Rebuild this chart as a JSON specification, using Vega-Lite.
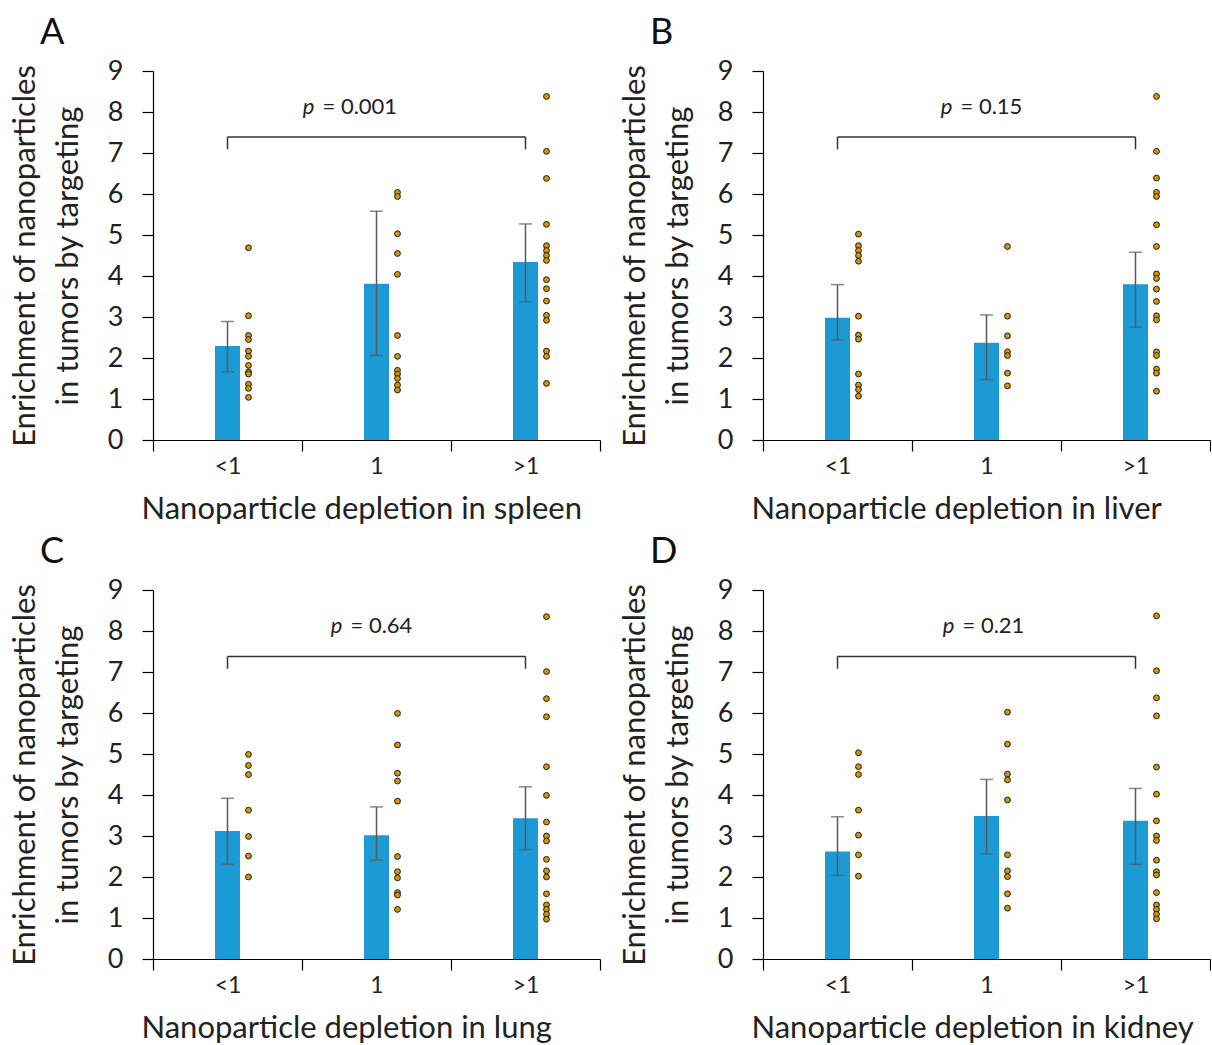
{
  "$schema": "https://vega.github.io/schema/vega-lite/v6.json",
  "background": "white",
  "padding": {"left": 8, "top": 15, "right": 0, "bottom": 0},
  "config": {
    "view": {"stroke": null},
    "font": "Lato",
    "axis": {"grid": false, "domainColor": "#000", "tickColor": "#000", "labelColor": "#222", "titleColor": "#222", "labelFont": "Lato", "titleFont": "Lato", "titleFontWeight": "normal", "domainWidth": 1.2, "tickWidth": 1.2},
    "title": {"font": "Lato", "fontWeight": "normal", "fontSize": 36, "color": "#111", "anchor": "start", "frame": "group", "dx": -113, "offset": 5}
  },
  "datasets": {
    "bars": [
      {"panel": "A", "group": "<1", "mean": 2.29, "lo": 1.66, "hi": 2.89},
      {"panel": "A", "group": "1", "mean": 3.81, "lo": 2.06, "hi": 5.58},
      {"panel": "A", "group": ">1", "mean": 4.34, "lo": 3.37, "hi": 5.27},
      {"panel": "B", "group": "<1", "mean": 2.98, "lo": 2.44, "hi": 3.79},
      {"panel": "B", "group": "1", "mean": 2.37, "lo": 1.47, "hi": 3.05},
      {"panel": "B", "group": ">1", "mean": 3.80, "lo": 2.75, "hi": 4.58},
      {"panel": "C", "group": "<1", "mean": 3.12, "lo": 2.31, "hi": 3.92},
      {"panel": "C", "group": "1", "mean": 3.02, "lo": 2.41, "hi": 3.71},
      {"panel": "C", "group": ">1", "mean": 3.43, "lo": 2.67, "hi": 4.20},
      {"panel": "D", "group": "<1", "mean": 2.62, "lo": 2.04, "hi": 3.47},
      {"panel": "D", "group": "1", "mean": 3.49, "lo": 2.56, "hi": 4.38},
      {"panel": "D", "group": ">1", "mean": 3.37, "lo": 2.31, "hi": 4.16}
    ],
    "dots": [
      {"panel": "A", "group": "<1", "value": 4.69}, {"panel": "A", "group": "<1", "value": 3.03}, {"panel": "A", "group": "<1", "value": 2.55}, {"panel": "A", "group": "<1", "value": 2.45}, {"panel": "A", "group": "<1", "value": 2.17}, {"panel": "A", "group": "<1", "value": 2.04}, {"panel": "A", "group": "<1", "value": 1.82}, {"panel": "A", "group": "<1", "value": 1.66}, {"panel": "A", "group": "<1", "value": 1.61}, {"panel": "A", "group": "<1", "value": 1.36}, {"panel": "A", "group": "<1", "value": 1.26}, {"panel": "A", "group": "<1", "value": 1.04},
      {"panel": "A", "group": "1", "value": 6.04}, {"panel": "A", "group": "1", "value": 5.94}, {"panel": "A", "group": "1", "value": 5.03}, {"panel": "A", "group": "1", "value": 4.55}, {"panel": "A", "group": "1", "value": 4.04}, {"panel": "A", "group": "1", "value": 2.55}, {"panel": "A", "group": "1", "value": 2.04}, {"panel": "A", "group": "1", "value": 1.70}, {"panel": "A", "group": "1", "value": 1.61}, {"panel": "A", "group": "1", "value": 1.50}, {"panel": "A", "group": "1", "value": 1.34}, {"panel": "A", "group": "1", "value": 1.22},
      {"panel": "A", "group": ">1", "value": 8.38}, {"panel": "A", "group": ">1", "value": 7.04}, {"panel": "A", "group": ">1", "value": 6.38}, {"panel": "A", "group": ">1", "value": 5.26}, {"panel": "A", "group": ">1", "value": 4.74}, {"panel": "A", "group": ">1", "value": 4.62}, {"panel": "A", "group": ">1", "value": 4.50}, {"panel": "A", "group": ">1", "value": 4.38}, {"panel": "A", "group": ">1", "value": 3.91}, {"panel": "A", "group": ">1", "value": 3.69}, {"panel": "A", "group": ">1", "value": 3.39}, {"panel": "A", "group": ">1", "value": 3.04}, {"panel": "A", "group": ">1", "value": 2.92}, {"panel": "A", "group": ">1", "value": 2.17}, {"panel": "A", "group": ">1", "value": 2.04}, {"panel": "A", "group": ">1", "value": 1.38},
      {"panel": "B", "group": "<1", "value": 5.02}, {"panel": "B", "group": "<1", "value": 4.74}, {"panel": "B", "group": "<1", "value": 4.62}, {"panel": "B", "group": "<1", "value": 4.50}, {"panel": "B", "group": "<1", "value": 4.36}, {"panel": "B", "group": "<1", "value": 3.02}, {"panel": "B", "group": "<1", "value": 2.56}, {"panel": "B", "group": "<1", "value": 2.46}, {"panel": "B", "group": "<1", "value": 1.61}, {"panel": "B", "group": "<1", "value": 1.34}, {"panel": "B", "group": "<1", "value": 1.23}, {"panel": "B", "group": "<1", "value": 1.07},
      {"panel": "B", "group": "1", "value": 4.72}, {"panel": "B", "group": "1", "value": 3.02}, {"panel": "B", "group": "1", "value": 2.54}, {"panel": "B", "group": "1", "value": 2.15}, {"panel": "B", "group": "1", "value": 2.06}, {"panel": "B", "group": "1", "value": 1.63}, {"panel": "B", "group": "1", "value": 1.32},
      {"panel": "B", "group": ">1", "value": 8.38}, {"panel": "B", "group": ">1", "value": 7.04}, {"panel": "B", "group": ">1", "value": 6.39}, {"panel": "B", "group": ">1", "value": 6.04}, {"panel": "B", "group": ">1", "value": 5.94}, {"panel": "B", "group": ">1", "value": 5.25}, {"panel": "B", "group": ">1", "value": 4.72}, {"panel": "B", "group": ">1", "value": 4.05}, {"panel": "B", "group": ">1", "value": 3.94}, {"panel": "B", "group": ">1", "value": 3.68}, {"panel": "B", "group": ">1", "value": 3.38}, {"panel": "B", "group": ">1", "value": 3.03}, {"panel": "B", "group": ">1", "value": 2.93}, {"panel": "B", "group": ">1", "value": 2.15}, {"panel": "B", "group": ">1", "value": 2.06}, {"panel": "B", "group": ">1", "value": 1.73}, {"panel": "B", "group": ">1", "value": 1.63}, {"panel": "B", "group": ">1", "value": 1.19},
      {"panel": "C", "group": "<1", "value": 4.99}, {"panel": "C", "group": "<1", "value": 4.72}, {"panel": "C", "group": "<1", "value": 4.50}, {"panel": "C", "group": "<1", "value": 3.63}, {"panel": "C", "group": "<1", "value": 2.99}, {"panel": "C", "group": "<1", "value": 2.51}, {"panel": "C", "group": "<1", "value": 2.00},
      {"panel": "C", "group": "1", "value": 5.99}, {"panel": "C", "group": "1", "value": 5.22}, {"panel": "C", "group": "1", "value": 4.53}, {"panel": "C", "group": "1", "value": 4.34}, {"panel": "C", "group": "1", "value": 3.85}, {"panel": "C", "group": "1", "value": 2.50}, {"panel": "C", "group": "1", "value": 2.13}, {"panel": "C", "group": "1", "value": 1.98}, {"panel": "C", "group": "1", "value": 1.62}, {"panel": "C", "group": "1", "value": 1.56}, {"panel": "C", "group": "1", "value": 1.21},
      {"panel": "C", "group": ">1", "value": 8.35}, {"panel": "C", "group": ">1", "value": 7.01}, {"panel": "C", "group": ">1", "value": 6.35}, {"panel": "C", "group": ">1", "value": 5.91}, {"panel": "C", "group": ">1", "value": 4.69}, {"panel": "C", "group": ">1", "value": 3.99}, {"panel": "C", "group": ">1", "value": 3.34}, {"panel": "C", "group": ">1", "value": 3.00}, {"panel": "C", "group": ">1", "value": 2.88}, {"panel": "C", "group": ">1", "value": 2.43}, {"panel": "C", "group": ">1", "value": 2.15}, {"panel": "C", "group": ">1", "value": 2.00}, {"panel": "C", "group": ">1", "value": 1.59}, {"panel": "C", "group": ">1", "value": 1.32}, {"panel": "C", "group": ">1", "value": 1.21}, {"panel": "C", "group": ">1", "value": 1.09}, {"panel": "C", "group": ">1", "value": 0.97},
      {"panel": "D", "group": "<1", "value": 5.03}, {"panel": "D", "group": "<1", "value": 4.69}, {"panel": "D", "group": "<1", "value": 4.50}, {"panel": "D", "group": "<1", "value": 3.63}, {"panel": "D", "group": "<1", "value": 3.02}, {"panel": "D", "group": "<1", "value": 2.54}, {"panel": "D", "group": "<1", "value": 2.02},
      {"panel": "D", "group": "1", "value": 6.02}, {"panel": "D", "group": "1", "value": 5.24}, {"panel": "D", "group": "1", "value": 4.51}, {"panel": "D", "group": "1", "value": 4.37}, {"panel": "D", "group": "1", "value": 3.88}, {"panel": "D", "group": "1", "value": 2.54}, {"panel": "D", "group": "1", "value": 2.15}, {"panel": "D", "group": "1", "value": 2.01}, {"panel": "D", "group": "1", "value": 1.59}, {"panel": "D", "group": "1", "value": 1.24},
      {"panel": "D", "group": ">1", "value": 8.37}, {"panel": "D", "group": ">1", "value": 7.03}, {"panel": "D", "group": ">1", "value": 6.37}, {"panel": "D", "group": ">1", "value": 5.93}, {"panel": "D", "group": ">1", "value": 4.68}, {"panel": "D", "group": ">1", "value": 4.02}, {"panel": "D", "group": ">1", "value": 3.37}, {"panel": "D", "group": ">1", "value": 3.00}, {"panel": "D", "group": ">1", "value": 2.89}, {"panel": "D", "group": ">1", "value": 2.41}, {"panel": "D", "group": ">1", "value": 2.13}, {"panel": "D", "group": ">1", "value": 2.05}, {"panel": "D", "group": ">1", "value": 1.62}, {"panel": "D", "group": ">1", "value": 1.32}, {"panel": "D", "group": ">1", "value": 1.21}, {"panel": "D", "group": ">1", "value": 1.09}, {"panel": "D", "group": ">1", "value": 0.98}
    ],
    "brackets": [
      {"panel": "A", "from": "<1", "to": ">1", "mid": "1", "top": 7.39, "bottom": 7.09, "label": 8.12, "pval": "= 0.001"},
      {"panel": "B", "from": "<1", "to": ">1", "mid": "1", "top": 7.39, "bottom": 7.09, "label": 8.12, "pval": "= 0.15"},
      {"panel": "C", "from": "<1", "to": ">1", "mid": "1", "top": 7.38, "bottom": 7.08, "label": 8.12, "pval": "= 0.64"},
      {"panel": "D", "from": "<1", "to": ">1", "mid": "1", "top": 7.38, "bottom": 7.08, "label": 8.12, "pval": "= 0.21"}
    ]
  },
  "columns": 2,
  "bounds": "flush",
  "spacing": {"row": 150, "column": 163},
  "concat": [
    {
      "width": 447, "height": 369,
      "title": {"text": "A"},
      "layer": [
        {"data": {"name": "bars"}, "transform": [{"filter": "datum.panel === 'A'"}],
         "mark": {"type": "bar", "width": 25, "color": "#1C9AD6"},
         "encoding": {
           "x": {"field": "group", "type": "nominal", "scale": {"domain": ["<1", "1", ">1"], "paddingInner": 0, "paddingOuter": 0},
                 "axis": {"title": "Nanoparticle depletion in spleen", "titleFontSize": 31, "titleAlign": "left", "titleAnchor": "start", "titleX": -12, "titleY": 78, "titleBaseline": "alphabetic", "labelFontSize": 23, "labelAngle": 0, "labelPadding": 4, "tickBand": "extent", "tickSize": 11}},
           "y": {"field": "mean", "type": "quantitative", "scale": {"domain": [0, 9], "nice": false},
                 "axis": {"title": ["Enrichment of nanoparticles", "in tumors by targeting"], "titleAngle": -90, "titleX": -128, "titleY": 184.5, "titleAlign": "center", "titleBaseline": "middle", "titleLineHeight": 43, "titleFontSize": 31, "values": [0, 1, 2, 3, 4, 5, 6, 7, 8, 9], "tickSize": 11, "labelFontSize": 27, "labelPadding": 19, "labelFlush": false, "labelOverlap": false}}
         }},
        {"data": {"name": "bars"}, "transform": [{"filter": "datum.panel === 'A'"}],
         "mark": {"type": "rule", "color": "#595959", "strokeWidth": 1.5},
         "encoding": {
           "x": {"field": "group", "type": "nominal", "scale": {"domain": ["<1", "1", ">1"], "paddingInner": 0, "paddingOuter": 0}},
           "y": {"field": "lo", "type": "quantitative", "scale": {"domain": [0, 9], "nice": false}},
           "y2": {"field": "hi"}
         }},
        {"data": {"name": "bars"}, "transform": [{"filter": "datum.panel === 'A'"}],
         "mark": {"type": "tick", "orient": "horizontal", "size": 13, "thickness": 1.5, "color": "#595959"},
         "encoding": {
           "x": {"field": "group", "type": "nominal", "scale": {"domain": ["<1", "1", ">1"], "paddingInner": 0, "paddingOuter": 0}},
           "y": {"field": "lo", "type": "quantitative", "scale": {"domain": [0, 9], "nice": false}}
         }},
        {"data": {"name": "bars"}, "transform": [{"filter": "datum.panel === 'A'"}],
         "mark": {"type": "tick", "orient": "horizontal", "size": 13, "thickness": 1.5, "color": "#595959"},
         "encoding": {
           "x": {"field": "group", "type": "nominal", "scale": {"domain": ["<1", "1", ">1"], "paddingInner": 0, "paddingOuter": 0}},
           "y": {"field": "hi", "type": "quantitative", "scale": {"domain": [0, 9], "nice": false}}
         }},
        {"data": {"name": "dots"}, "transform": [{"filter": "datum.panel === 'A'"}],
         "mark": {"type": "circle", "size": 34, "fill": "#D3960A", "stroke": "#1a1a1a", "strokeWidth": 1, "opacity": 1, "xOffset": 21},
         "encoding": {
           "x": {"field": "group", "type": "nominal", "scale": {"domain": ["<1", "1", ">1"], "paddingInner": 0, "paddingOuter": 0}},
           "y": {"field": "value", "type": "quantitative", "scale": {"domain": [0, 9], "nice": false}}
         }},
        {"data": {"name": "brackets"}, "transform": [{"filter": "datum.panel === 'A'"}],
         "mark": {"type": "rule", "color": "#333", "strokeWidth": 1.5},
         "encoding": {
           "x": {"field": "from", "type": "nominal", "scale": {"domain": ["<1", "1", ">1"], "paddingInner": 0, "paddingOuter": 0}},
           "x2": {"field": "to"},
           "y": {"field": "top", "type": "quantitative", "scale": {"domain": [0, 9], "nice": false}}
         }},
        {"data": {"name": "brackets"}, "transform": [{"filter": "datum.panel === 'A'"}],
         "mark": {"type": "rule", "color": "#333", "strokeWidth": 1.5},
         "encoding": {
           "x": {"field": "from", "type": "nominal", "scale": {"domain": ["<1", "1", ">1"], "paddingInner": 0, "paddingOuter": 0}},
           "y": {"field": "top", "type": "quantitative", "scale": {"domain": [0, 9], "nice": false}},
           "y2": {"field": "bottom"}
         }},
        {"data": {"name": "brackets"}, "transform": [{"filter": "datum.panel === 'A'"}],
         "mark": {"type": "rule", "color": "#333", "strokeWidth": 1.5},
         "encoding": {
           "x": {"field": "to", "type": "nominal", "scale": {"domain": ["<1", "1", ">1"], "paddingInner": 0, "paddingOuter": 0}},
           "y": {"field": "top", "type": "quantitative", "scale": {"domain": [0, 9], "nice": false}},
           "y2": {"field": "bottom"}
         }},
        {"data": {"name": "brackets"}, "transform": [{"filter": "datum.panel === 'A'"}],
         "mark": {"type": "text", "text": "p", "fontStyle": "italic", "align": "right", "baseline": "middle", "dx": -62, "fontSize": 22, "color": "#222"},
         "encoding": {
           "x": {"field": "mid", "type": "nominal", "scale": {"domain": ["<1", "1", ">1"], "paddingInner": 0, "paddingOuter": 0}},
           "y": {"field": "label", "type": "quantitative", "scale": {"domain": [0, 9], "nice": false}}
         }},
        {"data": {"name": "brackets"}, "transform": [{"filter": "datum.panel === 'A'"}],
         "mark": {"type": "text", "align": "left", "baseline": "middle", "dx": -54, "fontSize": 22, "color": "#222"},
         "encoding": {
           "x": {"field": "mid", "type": "nominal", "scale": {"domain": ["<1", "1", ">1"], "paddingInner": 0, "paddingOuter": 0}},
           "y": {"field": "label", "type": "quantitative", "scale": {"domain": [0, 9], "nice": false}},
           "text": {"field": "pval"}
         }}
      ]
    },
    {
      "width": 447, "height": 369,
      "title": {"text": "B"},
      "layer": [
        {"data": {"name": "bars"}, "transform": [{"filter": "datum.panel === 'B'"}],
         "mark": {"type": "bar", "width": 25, "color": "#1C9AD6"},
         "encoding": {
           "x": {"field": "group", "type": "nominal", "scale": {"domain": ["<1", "1", ">1"], "paddingInner": 0, "paddingOuter": 0},
                 "axis": {"title": "Nanoparticle depletion in liver", "titleFontSize": 31, "titleAlign": "left", "titleAnchor": "start", "titleX": -12, "titleY": 78, "titleBaseline": "alphabetic", "labelFontSize": 23, "labelAngle": 0, "labelPadding": 4, "tickBand": "extent", "tickSize": 11}},
           "y": {"field": "mean", "type": "quantitative", "scale": {"domain": [0, 9], "nice": false},
                 "axis": {"title": ["Enrichment of nanoparticles", "in tumors by targeting"], "titleAngle": -90, "titleX": -128, "titleY": 184.5, "titleAlign": "center", "titleBaseline": "middle", "titleLineHeight": 43, "titleFontSize": 31, "values": [0, 1, 2, 3, 4, 5, 6, 7, 8, 9], "tickSize": 11, "labelFontSize": 27, "labelPadding": 19, "labelFlush": false, "labelOverlap": false}}
         }},
        {"data": {"name": "bars"}, "transform": [{"filter": "datum.panel === 'B'"}],
         "mark": {"type": "rule", "color": "#595959", "strokeWidth": 1.5},
         "encoding": {
           "x": {"field": "group", "type": "nominal", "scale": {"domain": ["<1", "1", ">1"], "paddingInner": 0, "paddingOuter": 0}},
           "y": {"field": "lo", "type": "quantitative", "scale": {"domain": [0, 9], "nice": false}},
           "y2": {"field": "hi"}
         }},
        {"data": {"name": "bars"}, "transform": [{"filter": "datum.panel === 'B'"}],
         "mark": {"type": "tick", "orient": "horizontal", "size": 13, "thickness": 1.5, "color": "#595959"},
         "encoding": {
           "x": {"field": "group", "type": "nominal", "scale": {"domain": ["<1", "1", ">1"], "paddingInner": 0, "paddingOuter": 0}},
           "y": {"field": "lo", "type": "quantitative", "scale": {"domain": [0, 9], "nice": false}}
         }},
        {"data": {"name": "bars"}, "transform": [{"filter": "datum.panel === 'B'"}],
         "mark": {"type": "tick", "orient": "horizontal", "size": 13, "thickness": 1.5, "color": "#595959"},
         "encoding": {
           "x": {"field": "group", "type": "nominal", "scale": {"domain": ["<1", "1", ">1"], "paddingInner": 0, "paddingOuter": 0}},
           "y": {"field": "hi", "type": "quantitative", "scale": {"domain": [0, 9], "nice": false}}
         }},
        {"data": {"name": "dots"}, "transform": [{"filter": "datum.panel === 'B'"}],
         "mark": {"type": "circle", "size": 34, "fill": "#D3960A", "stroke": "#1a1a1a", "strokeWidth": 1, "opacity": 1, "xOffset": 21},
         "encoding": {
           "x": {"field": "group", "type": "nominal", "scale": {"domain": ["<1", "1", ">1"], "paddingInner": 0, "paddingOuter": 0}},
           "y": {"field": "value", "type": "quantitative", "scale": {"domain": [0, 9], "nice": false}}
         }},
        {"data": {"name": "brackets"}, "transform": [{"filter": "datum.panel === 'B'"}],
         "mark": {"type": "rule", "color": "#333", "strokeWidth": 1.5},
         "encoding": {
           "x": {"field": "from", "type": "nominal", "scale": {"domain": ["<1", "1", ">1"], "paddingInner": 0, "paddingOuter": 0}},
           "x2": {"field": "to"},
           "y": {"field": "top", "type": "quantitative", "scale": {"domain": [0, 9], "nice": false}}
         }},
        {"data": {"name": "brackets"}, "transform": [{"filter": "datum.panel === 'B'"}],
         "mark": {"type": "rule", "color": "#333", "strokeWidth": 1.5},
         "encoding": {
           "x": {"field": "from", "type": "nominal", "scale": {"domain": ["<1", "1", ">1"], "paddingInner": 0, "paddingOuter": 0}},
           "y": {"field": "top", "type": "quantitative", "scale": {"domain": [0, 9], "nice": false}},
           "y2": {"field": "bottom"}
         }},
        {"data": {"name": "brackets"}, "transform": [{"filter": "datum.panel === 'B'"}],
         "mark": {"type": "rule", "color": "#333", "strokeWidth": 1.5},
         "encoding": {
           "x": {"field": "to", "type": "nominal", "scale": {"domain": ["<1", "1", ">1"], "paddingInner": 0, "paddingOuter": 0}},
           "y": {"field": "top", "type": "quantitative", "scale": {"domain": [0, 9], "nice": false}},
           "y2": {"field": "bottom"}
         }},
        {"data": {"name": "brackets"}, "transform": [{"filter": "datum.panel === 'B'"}],
         "mark": {"type": "text", "text": "p", "fontStyle": "italic", "align": "right", "baseline": "middle", "dx": -34, "fontSize": 22, "color": "#222"},
         "encoding": {
           "x": {"field": "mid", "type": "nominal", "scale": {"domain": ["<1", "1", ">1"], "paddingInner": 0, "paddingOuter": 0}},
           "y": {"field": "label", "type": "quantitative", "scale": {"domain": [0, 9], "nice": false}}
         }},
        {"data": {"name": "brackets"}, "transform": [{"filter": "datum.panel === 'B'"}],
         "mark": {"type": "text", "align": "left", "baseline": "middle", "dx": -26, "fontSize": 22, "color": "#222"},
         "encoding": {
           "x": {"field": "mid", "type": "nominal", "scale": {"domain": ["<1", "1", ">1"], "paddingInner": 0, "paddingOuter": 0}},
           "y": {"field": "label", "type": "quantitative", "scale": {"domain": [0, 9], "nice": false}},
           "text": {"field": "pval"}
         }}
      ]
    },
    {
      "width": 447, "height": 369,
      "title": {"text": "C"},
      "layer": [
        {"data": {"name": "bars"}, "transform": [{"filter": "datum.panel === 'C'"}],
         "mark": {"type": "bar", "width": 25, "color": "#1C9AD6"},
         "encoding": {
           "x": {"field": "group", "type": "nominal", "scale": {"domain": ["<1", "1", ">1"], "paddingInner": 0, "paddingOuter": 0},
                 "axis": {"title": "Nanoparticle depletion in lung", "titleFontSize": 31, "titleAlign": "left", "titleAnchor": "start", "titleX": -12, "titleY": 78, "titleBaseline": "alphabetic", "labelFontSize": 23, "labelAngle": 0, "labelPadding": 4, "tickBand": "extent", "tickSize": 11}},
           "y": {"field": "mean", "type": "quantitative", "scale": {"domain": [0, 9], "nice": false},
                 "axis": {"title": ["Enrichment of nanoparticles", "in tumors by targeting"], "titleAngle": -90, "titleX": -128, "titleY": 184.5, "titleAlign": "center", "titleBaseline": "middle", "titleLineHeight": 43, "titleFontSize": 31, "values": [0, 1, 2, 3, 4, 5, 6, 7, 8, 9], "tickSize": 11, "labelFontSize": 27, "labelPadding": 19, "labelFlush": false, "labelOverlap": false}}
         }},
        {"data": {"name": "bars"}, "transform": [{"filter": "datum.panel === 'C'"}],
         "mark": {"type": "rule", "color": "#595959", "strokeWidth": 1.5},
         "encoding": {
           "x": {"field": "group", "type": "nominal", "scale": {"domain": ["<1", "1", ">1"], "paddingInner": 0, "paddingOuter": 0}},
           "y": {"field": "lo", "type": "quantitative", "scale": {"domain": [0, 9], "nice": false}},
           "y2": {"field": "hi"}
         }},
        {"data": {"name": "bars"}, "transform": [{"filter": "datum.panel === 'C'"}],
         "mark": {"type": "tick", "orient": "horizontal", "size": 13, "thickness": 1.5, "color": "#595959"},
         "encoding": {
           "x": {"field": "group", "type": "nominal", "scale": {"domain": ["<1", "1", ">1"], "paddingInner": 0, "paddingOuter": 0}},
           "y": {"field": "lo", "type": "quantitative", "scale": {"domain": [0, 9], "nice": false}}
         }},
        {"data": {"name": "bars"}, "transform": [{"filter": "datum.panel === 'C'"}],
         "mark": {"type": "tick", "orient": "horizontal", "size": 13, "thickness": 1.5, "color": "#595959"},
         "encoding": {
           "x": {"field": "group", "type": "nominal", "scale": {"domain": ["<1", "1", ">1"], "paddingInner": 0, "paddingOuter": 0}},
           "y": {"field": "hi", "type": "quantitative", "scale": {"domain": [0, 9], "nice": false}}
         }},
        {"data": {"name": "dots"}, "transform": [{"filter": "datum.panel === 'C'"}],
         "mark": {"type": "circle", "size": 34, "fill": "#D3960A", "stroke": "#1a1a1a", "strokeWidth": 1, "opacity": 1, "xOffset": 21},
         "encoding": {
           "x": {"field": "group", "type": "nominal", "scale": {"domain": ["<1", "1", ">1"], "paddingInner": 0, "paddingOuter": 0}},
           "y": {"field": "value", "type": "quantitative", "scale": {"domain": [0, 9], "nice": false}}
         }},
        {"data": {"name": "brackets"}, "transform": [{"filter": "datum.panel === 'C'"}],
         "mark": {"type": "rule", "color": "#333", "strokeWidth": 1.5},
         "encoding": {
           "x": {"field": "from", "type": "nominal", "scale": {"domain": ["<1", "1", ">1"], "paddingInner": 0, "paddingOuter": 0}},
           "x2": {"field": "to"},
           "y": {"field": "top", "type": "quantitative", "scale": {"domain": [0, 9], "nice": false}}
         }},
        {"data": {"name": "brackets"}, "transform": [{"filter": "datum.panel === 'C'"}],
         "mark": {"type": "rule", "color": "#333", "strokeWidth": 1.5},
         "encoding": {
           "x": {"field": "from", "type": "nominal", "scale": {"domain": ["<1", "1", ">1"], "paddingInner": 0, "paddingOuter": 0}},
           "y": {"field": "top", "type": "quantitative", "scale": {"domain": [0, 9], "nice": false}},
           "y2": {"field": "bottom"}
         }},
        {"data": {"name": "brackets"}, "transform": [{"filter": "datum.panel === 'C'"}],
         "mark": {"type": "rule", "color": "#333", "strokeWidth": 1.5},
         "encoding": {
           "x": {"field": "to", "type": "nominal", "scale": {"domain": ["<1", "1", ">1"], "paddingInner": 0, "paddingOuter": 0}},
           "y": {"field": "top", "type": "quantitative", "scale": {"domain": [0, 9], "nice": false}},
           "y2": {"field": "bottom"}
         }},
        {"data": {"name": "brackets"}, "transform": [{"filter": "datum.panel === 'C'"}],
         "mark": {"type": "text", "text": "p", "fontStyle": "italic", "align": "right", "baseline": "middle", "dx": -34, "fontSize": 22, "color": "#222"},
         "encoding": {
           "x": {"field": "mid", "type": "nominal", "scale": {"domain": ["<1", "1", ">1"], "paddingInner": 0, "paddingOuter": 0}},
           "y": {"field": "label", "type": "quantitative", "scale": {"domain": [0, 9], "nice": false}}
         }},
        {"data": {"name": "brackets"}, "transform": [{"filter": "datum.panel === 'C'"}],
         "mark": {"type": "text", "align": "left", "baseline": "middle", "dx": -26, "fontSize": 22, "color": "#222"},
         "encoding": {
           "x": {"field": "mid", "type": "nominal", "scale": {"domain": ["<1", "1", ">1"], "paddingInner": 0, "paddingOuter": 0}},
           "y": {"field": "label", "type": "quantitative", "scale": {"domain": [0, 9], "nice": false}},
           "text": {"field": "pval"}
         }}
      ]
    },
    {
      "width": 447, "height": 369,
      "title": {"text": "D"},
      "layer": [
        {"data": {"name": "bars"}, "transform": [{"filter": "datum.panel === 'D'"}],
         "mark": {"type": "bar", "width": 25, "color": "#1C9AD6"},
         "encoding": {
           "x": {"field": "group", "type": "nominal", "scale": {"domain": ["<1", "1", ">1"], "paddingInner": 0, "paddingOuter": 0},
                 "axis": {"title": "Nanoparticle depletion in kidney", "titleFontSize": 31, "titleAlign": "left", "titleAnchor": "start", "titleX": -12, "titleY": 78, "titleBaseline": "alphabetic", "labelFontSize": 23, "labelAngle": 0, "labelPadding": 4, "tickBand": "extent", "tickSize": 11}},
           "y": {"field": "mean", "type": "quantitative", "scale": {"domain": [0, 9], "nice": false},
                 "axis": {"title": ["Enrichment of nanoparticles", "in tumors by targeting"], "titleAngle": -90, "titleX": -128, "titleY": 184.5, "titleAlign": "center", "titleBaseline": "middle", "titleLineHeight": 43, "titleFontSize": 31, "values": [0, 1, 2, 3, 4, 5, 6, 7, 8, 9], "tickSize": 11, "labelFontSize": 27, "labelPadding": 19, "labelFlush": false, "labelOverlap": false}}
         }},
        {"data": {"name": "bars"}, "transform": [{"filter": "datum.panel === 'D'"}],
         "mark": {"type": "rule", "color": "#595959", "strokeWidth": 1.5},
         "encoding": {
           "x": {"field": "group", "type": "nominal", "scale": {"domain": ["<1", "1", ">1"], "paddingInner": 0, "paddingOuter": 0}},
           "y": {"field": "lo", "type": "quantitative", "scale": {"domain": [0, 9], "nice": false}},
           "y2": {"field": "hi"}
         }},
        {"data": {"name": "bars"}, "transform": [{"filter": "datum.panel === 'D'"}],
         "mark": {"type": "tick", "orient": "horizontal", "size": 13, "thickness": 1.5, "color": "#595959"},
         "encoding": {
           "x": {"field": "group", "type": "nominal", "scale": {"domain": ["<1", "1", ">1"], "paddingInner": 0, "paddingOuter": 0}},
           "y": {"field": "lo", "type": "quantitative", "scale": {"domain": [0, 9], "nice": false}}
         }},
        {"data": {"name": "bars"}, "transform": [{"filter": "datum.panel === 'D'"}],
         "mark": {"type": "tick", "orient": "horizontal", "size": 13, "thickness": 1.5, "color": "#595959"},
         "encoding": {
           "x": {"field": "group", "type": "nominal", "scale": {"domain": ["<1", "1", ">1"], "paddingInner": 0, "paddingOuter": 0}},
           "y": {"field": "hi", "type": "quantitative", "scale": {"domain": [0, 9], "nice": false}}
         }},
        {"data": {"name": "dots"}, "transform": [{"filter": "datum.panel === 'D'"}],
         "mark": {"type": "circle", "size": 34, "fill": "#D3960A", "stroke": "#1a1a1a", "strokeWidth": 1, "opacity": 1, "xOffset": 21},
         "encoding": {
           "x": {"field": "group", "type": "nominal", "scale": {"domain": ["<1", "1", ">1"], "paddingInner": 0, "paddingOuter": 0}},
           "y": {"field": "value", "type": "quantitative", "scale": {"domain": [0, 9], "nice": false}}
         }},
        {"data": {"name": "brackets"}, "transform": [{"filter": "datum.panel === 'D'"}],
         "mark": {"type": "rule", "color": "#333", "strokeWidth": 1.5},
         "encoding": {
           "x": {"field": "from", "type": "nominal", "scale": {"domain": ["<1", "1", ">1"], "paddingInner": 0, "paddingOuter": 0}},
           "x2": {"field": "to"},
           "y": {"field": "top", "type": "quantitative", "scale": {"domain": [0, 9], "nice": false}}
         }},
        {"data": {"name": "brackets"}, "transform": [{"filter": "datum.panel === 'D'"}],
         "mark": {"type": "rule", "color": "#333", "strokeWidth": 1.5},
         "encoding": {
           "x": {"field": "from", "type": "nominal", "scale": {"domain": ["<1", "1", ">1"], "paddingInner": 0, "paddingOuter": 0}},
           "y": {"field": "top", "type": "quantitative", "scale": {"domain": [0, 9], "nice": false}},
           "y2": {"field": "bottom"}
         }},
        {"data": {"name": "brackets"}, "transform": [{"filter": "datum.panel === 'D'"}],
         "mark": {"type": "rule", "color": "#333", "strokeWidth": 1.5},
         "encoding": {
           "x": {"field": "to", "type": "nominal", "scale": {"domain": ["<1", "1", ">1"], "paddingInner": 0, "paddingOuter": 0}},
           "y": {"field": "top", "type": "quantitative", "scale": {"domain": [0, 9], "nice": false}},
           "y2": {"field": "bottom"}
         }},
        {"data": {"name": "brackets"}, "transform": [{"filter": "datum.panel === 'D'"}],
         "mark": {"type": "text", "text": "p", "fontStyle": "italic", "align": "right", "baseline": "middle", "dx": -32, "fontSize": 22, "color": "#222"},
         "encoding": {
           "x": {"field": "mid", "type": "nominal", "scale": {"domain": ["<1", "1", ">1"], "paddingInner": 0, "paddingOuter": 0}},
           "y": {"field": "label", "type": "quantitative", "scale": {"domain": [0, 9], "nice": false}}
         }},
        {"data": {"name": "brackets"}, "transform": [{"filter": "datum.panel === 'D'"}],
         "mark": {"type": "text", "align": "left", "baseline": "middle", "dx": -24, "fontSize": 22, "color": "#222"},
         "encoding": {
           "x": {"field": "mid", "type": "nominal", "scale": {"domain": ["<1", "1", ">1"], "paddingInner": 0, "paddingOuter": 0}},
           "y": {"field": "label", "type": "quantitative", "scale": {"domain": [0, 9], "nice": false}},
           "text": {"field": "pval"}
         }}
      ]
    }
  ]
}
